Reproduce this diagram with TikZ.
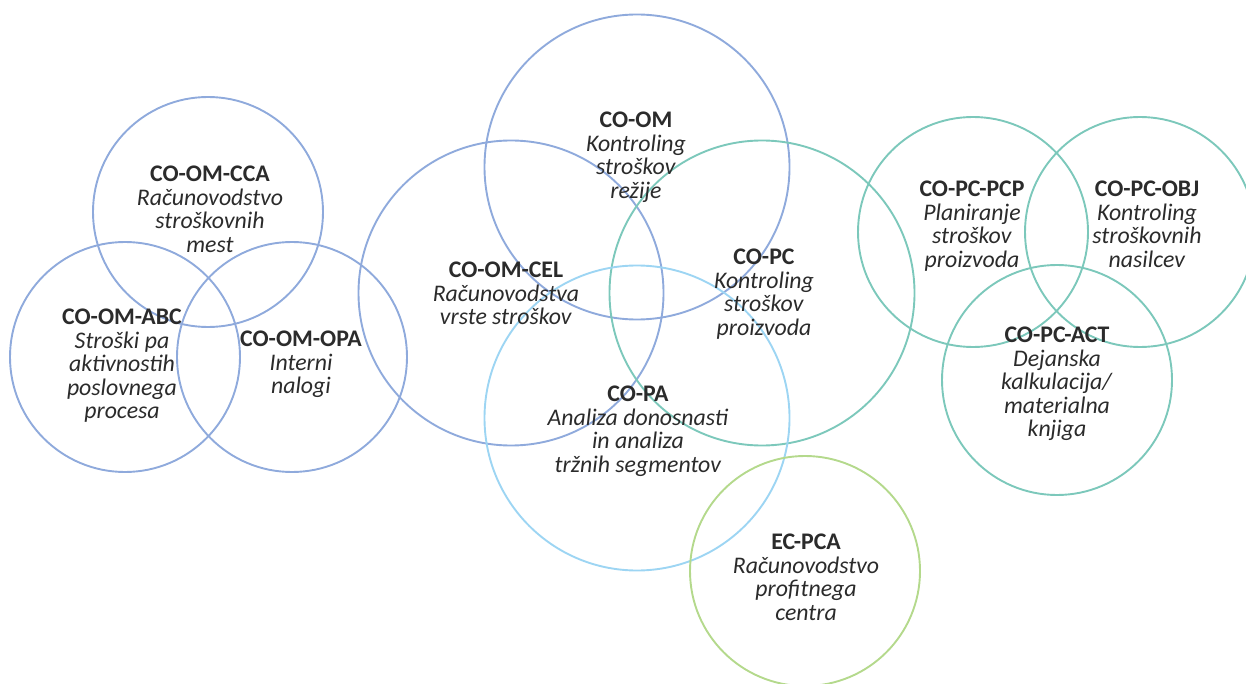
\documentclass[tikz,border=0pt]{standalone}
\usepackage{fontspec}
\setmainfont{Carlito}
\definecolor{cblue}{HTML}{8FAADC}
\definecolor{cteal}{HTML}{7CC8BB}
\definecolor{csky}{HTML}{9DD5F3}
\definecolor{cgreen}{HTML}{B4D98C}
\definecolor{txt}{HTML}{2B2B2B}
\begin{document}
\begin{tikzpicture}[x=1pt,y=-1pt,
  ring/.style={circle, draw=#1, line width=1.9pt, minimum size=230pt, inner sep=0pt},
  bigring/.style={circle, draw=#1, line width=1.9pt, minimum size=305pt, inner sep=0pt},
  lbl/.style={anchor=north, align=center, inner sep=0pt, text=txt, font=\fontsize{23.8}{23.5}\selectfont}]
\useasboundingbox (0,0) rectangle (1246,684);

% left group
\node[ring=cblue] (cca) at (208,212) {};
\node[ring=cblue] (abc) at (125,357) {};
\node[ring=cblue] (opa) at (292,357) {};

% central group
\node[bigring=cblue] (om) at (637,167) {};
\node[bigring=cblue] (cel) at (511,293) {};
\node[bigring=cteal] (pc) at (762,293) {};
\node[bigring=csky] (pa) at (637,418) {};
\node[ring=cgreen] (pca) at (805,571) {};

% right group
\node[ring=cteal] (pcp) at (973,232) {};
\node[ring=cteal] (obj) at (1140,232) {};
\node[ring=cteal] (act) at (1057,380) {};

% labels
\node[lbl] (tcca) at (210,166) {\textbf{CO-OM-CCA}\\\textit{Računovodstvo}\\\textit{stroškovnih}\\\textit{mest}};
\node[lbl] (tabc) at (122,309) {\textbf{CO-OM-ABC}\\\textit{Stroški pa}\\\textit{aktivnostih}\\\textit{poslovnega}\\\textit{procesa}};
\node[lbl] (topa) at (301,331) {\textbf{CO-OM-OPA}\\\textit{Interni}\\\textit{nalogi}};
\node[lbl] (tom) at (636,112) {\textbf{CO-OM}\\\textit{Kontroling}\\\textit{stroškov}\\\textit{režije}};
\node[lbl] (tcel) at (506,262) {\textbf{CO-OM-CEL}\\\textit{Računovodstva}\\\textit{vrste stroškov}};
\node[lbl] (tpc) at (764,249) {\textbf{CO-PC}\\\textit{Kontroling}\\\textit{stroškov}\\\textit{proizvoda}};
\node[lbl] (tpa) at (638,386) {\textbf{CO-PA}\\\textit{Analiza donosnasti}\\\textit{in analiza}\\\textit{tržnih segmentov}};
\node[lbl] (tpca) at (806,534) {\textbf{EC-PCA}\\\textit{Računovodstvo}\\\textit{profitnega}\\\textit{centra}};
\node[lbl] (tpcp) at (972,181) {\textbf{CO-PC-PCP}\\\textit{Planiranje}\\\textit{stroškov}\\\textit{proizvoda}};
\node[lbl] (tobj) at (1147,181) {\textbf{CO-PC-OBJ}\\\textit{Kontroling}\\\textit{stroškovnih}\\\textit{nasilcev}};
\node[lbl] (tact) at (1057,327) {\textbf{CO-PC-ACT}\\\textit{Dejanska}\\\textit{kalkulacija/}\\\textit{materialna}\\\textit{knjiga}};
\end{tikzpicture}
\end{document}
